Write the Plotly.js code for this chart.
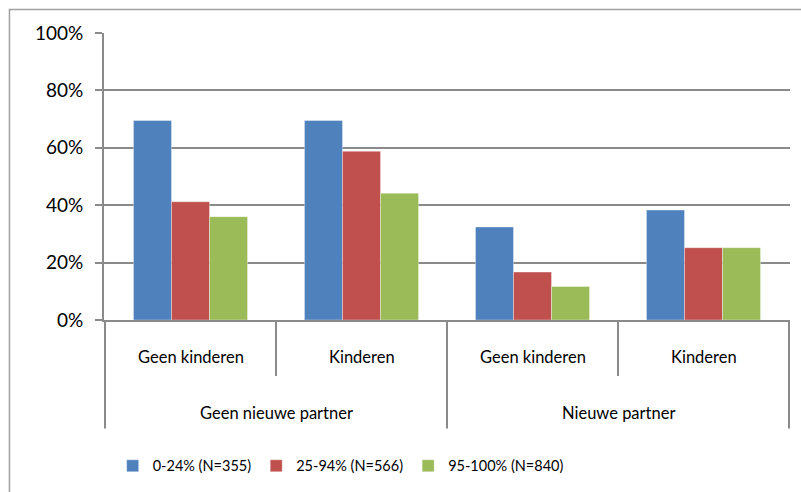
<!DOCTYPE html>
<html>
<head>
<meta charset="utf-8">
<script src="https://cdn.plot.ly/plotly-3.0.1.min.js"></script>
<style>html,body{margin:0;padding:0;background:#fff;}#chart{width:801px;height:492px;}</style>
</head>
<body>
<div id="chart"></div>
<script>
const outerCats = ["Geen nieuwe partner", "Geen nieuwe partner", "Nieuwe partner", "Nieuwe partner"];
const innerCats = ["Geen kinderen", "Kinderen", "Geen kinderen", "Kinderen"];
const seriesNames = ["0-24% (N=355)", "25-94% (N=566)", "95-100% (N=840)"];
const low = [0.695, 0.695, 0.324, 0.383];
const mid = [0.412, 0.588, 0.167, 0.252];
const high = [0.360, 0.442, 0.117, 0.252];
const colors = ["#4F81BD", "#C0504D", "#9BBB59"];

const seriesValues = [low, mid, high];
const traces = seriesValues.map((vals, i) => ({
  type: "bar",
  name: seriesNames[i],
  x: [outerCats, innerCats],
  y: vals,
  marker: {color: colors[i], line: {color: "rgba(255,255,255,0.35)", width: 1}},
  hoverinfo: "skip"
}));

const gray = "#8a8a8a";
const fontFam = "Lato, 'Open Sans', sans-serif";

// category labels as annotations on the category scale (index positions)
const annotations = [];
innerCats.forEach((c, i) => {
  annotations.push({xref: "x", yref: "paper", x: i, y: -0.128, text: c, showarrow: false,
    xanchor: "center", yanchor: "middle", font: {family: fontFam, size: 16.5, color: "#000"}});
});
const groups = [];
outerCats.forEach((g, i) => {
  const last = groups[groups.length - 1];
  if (last && last.name === g) last.end = i; else groups.push({name: g, start: i, end: i});
});
groups.forEach(g => {
  annotations.push({xref: "x", yref: "paper", x: (g.start + g.end) / 2, y: -0.325, text: g.name,
    showarrow: false, xanchor: "center", yanchor: "middle", font: {family: fontFam, size: 16.5, color: "#000"}});
});
const shapes = [];
const bounds = [groups[0].start - 0.5].concat(groups.map(g => g.end + 0.5));
bounds.forEach(b => {
  shapes.push({type: "line", xref: "x", yref: "paper", x0: b, x1: b, y0: 0, y1: -0.378,
    line: {color: gray, width: 2}});
});
shapes.push({
  type: "rect", xref: "paper", yref: "paper",
  x0: -0.1378, x1: 1.2, y0: -1.0, y1: 1.0816,
  line: {color: "#a0a0a0", width: 1.5}, fillcolor: "rgba(0,0,0,0)", layer: "below"
});

const layout = {
  width: 801, height: 492,
  margin: {l: 104, r: 11, t: 33, b: 171},
  paper_bgcolor: "#fff", plot_bgcolor: "#fff",
  font: {family: fontFam, size: 15, color: "#000"},
  barmode: "group", bargap: 0.333, bargroupgap: 0,
  showlegend: true,
  legend: {orientation: "h", x: 0.345, xanchor: "center", y: -0.503, yanchor: "middle",
           font: {family: fontFam, size: 14.5}, traceorder: "normal"},
  xaxis: {
    type: "multicategory",
    showline: true, linecolor: gray, linewidth: 2,
    ticks: "outside", tickson: "boundaries", ticklen: 54, tickcolor: gray, tickwidth: 2,
    showticklabels: false, showdividers: false,
    showgrid: false, zeroline: false
  },
  yaxis: {
    range: [0, 1], dtick: 0.2, tickformat: ".0%",
    showline: true, linecolor: gray, linewidth: 2,
    ticks: "outside", ticklen: 7, tickcolor: gray, tickwidth: 2,
    showgrid: true, gridcolor: gray, gridwidth: 2,
    zeroline: false, ticklabelstandoff: 8,
    tickfont: {size: 19}
  },
  annotations: annotations,
  shapes: shapes
};

Plotly.newPlot("chart", traces, layout, {staticPlot: true, displayModeBar: false});
</script>
</body>
</html>
